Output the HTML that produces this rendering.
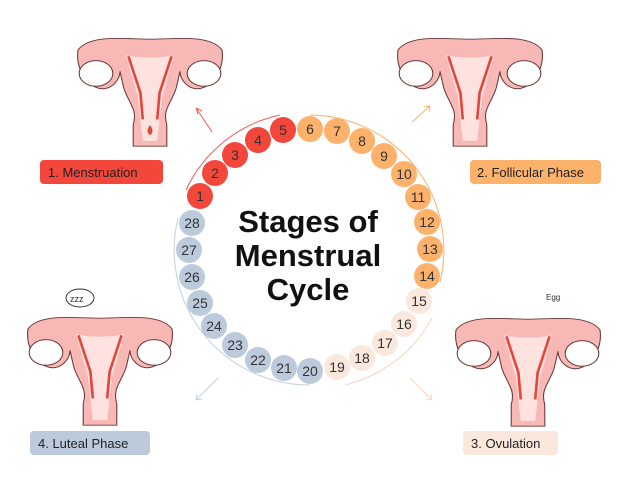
<!DOCTYPE html>
<html><head><style>
body{margin:0;background:#fff;width:620px;height:494px;overflow:hidden;font-family:"Liberation Sans",sans-serif}
</style></head><body>
<svg width="620" height="494" viewBox="0 0 620 494" xmlns="http://www.w3.org/2000/svg">
<defs>
<g id="ut">
 <path d="M-60,-30 C-50,-45 -20,-40 0,-40 C20,-40 50,-45 60,-30 C62,-15 55,0 45,5 C35,10 25,0 25,-10 L22,5 C18,20 10,25 14,40 L14,60 L-14,60 L-14,40 C-10,25 -18,20 -22,5 L-25,-10 C-25,0 -35,10 -45,5 C-55,0 -62,-15 -60,-30 Z" fill="#f8b9b6" stroke="#6b3a3a" stroke-width="0.9"/>
 <path d="M-20,-25 C-8,-22 8,-22 20,-25 L10,15 L6,55 L-6,55 L-10,15 Z" fill="#fde2e0"/>
 <path d="M-18,-24 L-8,10 L-6,35 M18,-24 L8,10 L6,35" stroke="#e8453a" stroke-width="2.2" fill="none"/>
 <ellipse cx="-45" cy="-8" rx="14" ry="12" fill="#fff" stroke="#6b3a3a" stroke-width="0.9"/>
 <ellipse cx="45" cy="-8" rx="14" ry="12" fill="#fff" stroke="#6b3a3a" stroke-width="0.9"/>
</g>
</defs>
<use href="#ut" transform="translate(150,82) scale(1.2,1.07)"/>
<use href="#ut" transform="translate(470,82) scale(1.2,1.07)"/>
<use href="#ut" transform="translate(100,361) scale(1.2,1.07)"/>
<use href="#ut" transform="translate(528,362) scale(1.2,1.07)"/>
<path d="M150,125 q5,7 0,10 q-5,-3 0,-10" fill="#e8453a"/>
<ellipse cx="80" cy="298" rx="14" ry="9" fill="#fff" stroke="#333"/>
<text x="70" y="302" font-size="9" fill="#333">zzz</text>
<text x="546" y="300" font-size="8" fill="#333">Egg</text>
<g fill="none" stroke-width="1">
<path d="M186,190 A135,135 0 0 1 280,115" stroke="#f25c4f"/>
<path d="M310,115 A135,135 0 0 1 440,282" stroke="#fbb06c"/>
<path d="M432,318 A135,135 0 0 1 345,385" stroke="#f6d4c2"/>
<path d="M310,385 A135,135 0 0 1 178,218" stroke="#c3d0df"/>
<path d="M212,132 L196,108 M196,108 l2,6 M196,108 l6,3" stroke="#f25c4f"/>
<path d="M412,122 L430,106 M430,106 l-6,1 M430,106 l-1,6" stroke="#fbb06c"/>
<path d="M410,378 L432,400 M432,400 l-6,-1 M432,400 l-1,-6" stroke="#f6d4c2"/>
<path d="M218,378 L196,400 M196,400 l6,-1 M196,400 l1,-6" stroke="#c3d0df"/>
</g>
<g font-size="14" text-anchor="middle" fill="#333">
<circle cx="200" cy="196" r="13" fill="#f2473a"/><text x="200" y="201">1</text>
<circle cx="215" cy="173" r="13" fill="#f2473a"/><text x="215" y="178">2</text>
<circle cx="235" cy="155" r="13" fill="#f2473a"/><text x="235" y="160">3</text>
<circle cx="258" cy="140" r="13" fill="#f2473a"/><text x="258" y="145">4</text>
<circle cx="283" cy="130" r="13" fill="#f2473a"/><text x="283" y="135">5</text>
<circle cx="310" cy="129" r="13" fill="#fdb26c"/><text x="310" y="134">6</text>
<circle cx="337" cy="131" r="13" fill="#fdb26c"/><text x="337" y="136">7</text>
<circle cx="362" cy="141" r="13" fill="#fdb26c"/><text x="362" y="146">8</text>
<circle cx="384" cy="156" r="13" fill="#fdb26c"/><text x="384" y="161">9</text>
<circle cx="404" cy="174" r="13" fill="#fdb26c"/><text x="404" y="179">10</text>
<circle cx="418" cy="197" r="13" fill="#fdb26c"/><text x="418" y="202">11</text>
<circle cx="427" cy="222" r="13" fill="#fdb26c"/><text x="427" y="227">12</text>
<circle cx="430" cy="249" r="13" fill="#fdb26c"/><text x="430" y="254">13</text>
<circle cx="427" cy="276" r="13" fill="#fdb26c"/><text x="427" y="281">14</text>
<circle cx="419" cy="301" r="13" fill="#fbe8dc"/><text x="419" y="306">15</text>
<circle cx="404" cy="324" r="13" fill="#fbe8dc"/><text x="404" y="329">16</text>
<circle cx="385" cy="343" r="13" fill="#fbe8dc"/><text x="385" y="348">17</text>
<circle cx="362" cy="358" r="13" fill="#fbe8dc"/><text x="362" y="363">18</text>
<circle cx="337" cy="367" r="13" fill="#fbe8dc"/><text x="337" y="372">19</text>
<circle cx="310" cy="371" r="13" fill="#bccbdc"/><text x="310" y="376">20</text>
<circle cx="284" cy="368" r="13" fill="#bccbdc"/><text x="284" y="373">21</text>
<circle cx="258" cy="360" r="13" fill="#bccbdc"/><text x="258" y="365">22</text>
<circle cx="235" cy="345" r="13" fill="#bccbdc"/><text x="235" y="350">23</text>
<circle cx="214" cy="326" r="13" fill="#bccbdc"/><text x="214" y="331">24</text>
<circle cx="200" cy="303" r="13" fill="#bccbdc"/><text x="200" y="308">25</text>
<circle cx="192" cy="277" r="13" fill="#bccbdc"/><text x="192" y="282">26</text>
<circle cx="189" cy="250" r="13" fill="#bccbdc"/><text x="189" y="255">27</text>
<circle cx="192" cy="223" r="13" fill="#bccbdc"/><text x="192" y="228">28</text>
</g>
<g font-size="31" font-weight="bold" text-anchor="middle" fill="#111">
<text x="308" y="232">Stages of</text>
<text x="308" y="266">Menstrual</text>
<text x="308" y="300">Cycle</text>
</g>
<g font-size="13" fill="#222">
<rect x="40" y="160" width="123" height="24" rx="4" fill="#f2473a"/><text x="48" y="177">1. Menstruation</text>
<rect x="470" y="160" width="131" height="24" rx="4" fill="#fdb26c"/><text x="477" y="177">2. Follicular Phase</text>
<rect x="463" y="431" width="95" height="24" rx="4" fill="#fbe8dc"/><text x="471" y="448">3. Ovulation</text>
<rect x="30" y="431" width="120" height="24" rx="4" fill="#bccbdc"/><text x="38" y="448">4. Luteal Phase</text>
</g>
</svg>
</body></html>
